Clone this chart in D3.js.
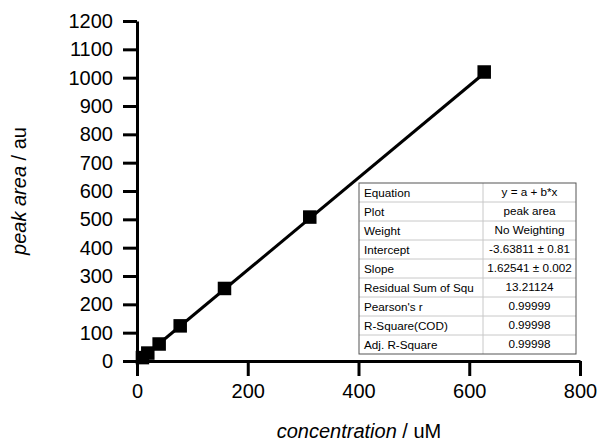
<!DOCTYPE html>
<html>
<head>
<meta charset="utf-8">
<script src="https://cdn.jsdelivr.net/npm/d3@7"></script>
<style>
  body { margin: 0; background: #fff; }
  svg { display: block; }
</style>
</head>
<body>
<div id="chart"></div>
<script>
// Frame size and margins
const FRAME_WIDTH = 598;
const FRAME_HEIGHT = 444;
const MARGINS = {left: 137, right: 18, top: 21, bottom: 83};
const VIS_WIDTH = FRAME_WIDTH - MARGINS.left - MARGINS.right;
const VIS_HEIGHT = FRAME_HEIGHT - MARGINS.top - MARGINS.bottom;

// Data
const concentration = [9.8, 19.5, 40, 78, 158, 312, 627];
const peakArea = [12, 28, 60, 124, 256, 508, 1020];

// Linear fit (from the results table)
const intercept = -3.63811;
const slope = 1.62541;

// Tick values
const xTicks = [0, 200, 400, 600, 800];
const yTicks = [0, 100, 200, 300, 400, 500, 600, 700, 800, 900, 1000, 1100, 1200];

// Fit results table
const tableLabels = ["Equation", "Plot", "Weight", "Intercept", "Slope",
                     "Residual Sum of Squ", "Pearson's r", "R-Square(COD)", "Adj. R-Square"];
const tableValues = ["y = a + b*x", "peak area", "No Weighting", "-3.63811 \u00b1 0.81",
                     "1.62541 \u00b1 0.002", "13.21124", "0.99999", "0.99998", "0.99998"];

const FONT = "'Liberation Sans', Arial, sans-serif";

const svg = d3.select("#chart")
  .append("svg")
    .attr("width", FRAME_WIDTH)
    .attr("height", FRAME_HEIGHT);

const g = svg.append("g")
  .attr("transform", "translate(" + MARGINS.left + "," + MARGINS.top + ")");

// Scales
const X_SCALE = d3.scaleLinear().domain([0, 800]).range([0, VIS_WIDTH]);
const Y_SCALE = d3.scaleLinear().domain([0, 1200]).range([VIS_HEIGHT, 0]);

// Axes
const xAxis = g.append("g")
  .attr("transform", "translate(0," + VIS_HEIGHT + ")")
  .call(d3.axisBottom(X_SCALE).tickValues(xTicks).tickFormat(d3.format("d"))
    .tickSize(15).tickSizeOuter(0).tickPadding(8));

const yAxis = g.append("g")
  .call(d3.axisLeft(Y_SCALE).tickValues(yTicks).tickFormat(d3.format("d"))
    .tickSize(14).tickSizeOuter(0).tickPadding(10));

[xAxis, yAxis].forEach(ax => {
  ax.select(".domain").attr("stroke", "#000").attr("stroke-width", 3);
  ax.selectAll(".tick line").attr("stroke", "#000").attr("stroke-width", 3);
  ax.selectAll(".tick text")
    .attr("fill", "#000")
    .style("font-family", FONT)
    .style("font-size", "20px");
});

// Fit line over the data range
const xMin = d3.min(concentration);
const xMax = d3.max(concentration);
g.append("line")
  .attr("x1", X_SCALE(xMin))
  .attr("y1", Y_SCALE(intercept + slope * xMin))
  .attr("x2", X_SCALE(xMax))
  .attr("y2", Y_SCALE(intercept + slope * xMax))
  .attr("stroke", "#000")
  .attr("stroke-width", 3);

// Square markers
const SQ = 13.5;
g.selectAll(".pt")
  .data(concentration)
  .enter()
  .append("rect")
    .attr("class", "pt")
    .attr("x", (d) => X_SCALE(d) - SQ / 2)
    .attr("y", (d, i) => Y_SCALE(peakArea[i]) - SQ / 2)
    .attr("width", SQ)
    .attr("height", SQ)
    .attr("fill", "#000");

// Axis titles
const xTitle = svg.append("text")
  .attr("x", 359)
  .attr("y", 438)
  .attr("text-anchor", "middle")
  .style("font-family", FONT)
  .style("font-size", "20px");
xTitle.append("tspan").style("font-style", "italic").text("concentration");
xTitle.append("tspan").text(" / uM");

const yTitle = svg.append("text")
  .attr("transform", "translate(26,191) rotate(-90)")
  .attr("text-anchor", "middle")
  .style("font-family", FONT)
  .style("font-size", "20px");
yTitle.append("tspan").style("font-style", "italic").text("peak area");
yTitle.append("tspan").text(" / au");

// Results table
const TABLE = {x: 359, y: 183, w: 217, h: 171, split: 124};
const rowH = TABLE.h / tableLabels.length;
const tbl = svg.append("g").attr("transform", "translate(" + TABLE.x + "," + TABLE.y + ")");

tbl.append("rect")
  .attr("width", TABLE.w)
  .attr("height", TABLE.h)
  .attr("fill", "#fff")
  .attr("stroke", "none");

// inner grid
tableLabels.forEach((d, i) => {
  if (i > 0) {
    tbl.append("line")
      .attr("x1", 0).attr("x2", TABLE.w)
      .attr("y1", i * rowH).attr("y2", i * rowH)
      .attr("stroke", "#c8c8c8").attr("stroke-width", 1);
  }
});
tbl.append("line")
  .attr("x1", TABLE.split).attr("x2", TABLE.split)
  .attr("y1", 0).attr("y2", TABLE.h)
  .attr("stroke", "#c8c8c8").attr("stroke-width", 1);

tbl.append("rect")
  .attr("width", TABLE.w)
  .attr("height", TABLE.h)
  .attr("fill", "none")
  .attr("stroke", "#555")
  .attr("stroke-width", 1);

tbl.selectAll(".lab")
  .data(tableLabels)
  .enter()
  .append("text")
    .attr("x", 5)
    .attr("y", (d, i) => i * rowH + 14)
    .style("font-family", FONT)
    .style("font-size", "11.7px")
    .text((d) => d);

tbl.selectAll(".val")
  .data(tableValues)
  .enter()
  .append("text")
    .attr("x", (TABLE.split + TABLE.w) / 2)
    .attr("y", (d, i) => i * rowH + 12.5)
    .attr("text-anchor", "middle")
    .style("font-family", FONT)
    .style("font-size", "11.7px")
    .text((d) => d);
</script>
</body>
</html>
